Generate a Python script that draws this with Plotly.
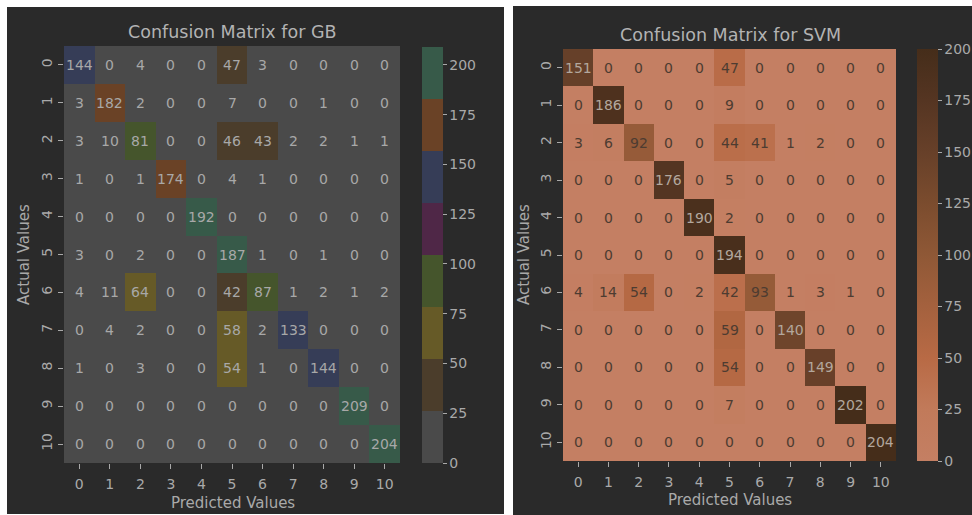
import plotly.graph_objects as go

# ---------------------------------------------------------------- data
labels = list(range(11))

gb_matrix = [
    [144, 0, 4, 0, 0, 47, 3, 0, 0, 0, 0],
    [3, 182, 2, 0, 0, 7, 0, 0, 1, 0, 0],
    [3, 10, 81, 0, 0, 46, 43, 2, 2, 1, 1],
    [1, 0, 1, 174, 0, 4, 1, 0, 0, 0, 0],
    [0, 0, 0, 0, 192, 0, 0, 0, 0, 0, 0],
    [3, 0, 2, 0, 0, 187, 1, 0, 1, 0, 0],
    [4, 11, 64, 0, 0, 42, 87, 1, 2, 1, 2],
    [0, 4, 2, 0, 0, 58, 2, 133, 0, 0, 0],
    [1, 0, 3, 0, 0, 54, 1, 0, 144, 0, 0],
    [0, 0, 0, 0, 0, 0, 0, 0, 0, 209, 0],
    [0, 0, 0, 0, 0, 0, 0, 0, 0, 0, 204],
]

svm_matrix = [
    [151, 0, 0, 0, 0, 47, 0, 0, 0, 0, 0],
    [0, 186, 0, 0, 0, 9, 0, 0, 0, 0, 0],
    [3, 6, 92, 0, 0, 44, 41, 1, 2, 0, 0],
    [0, 0, 0, 176, 0, 5, 0, 0, 0, 0, 0],
    [0, 0, 0, 0, 190, 2, 0, 0, 0, 0, 0],
    [0, 0, 0, 0, 0, 194, 0, 0, 0, 0, 0],
    [4, 14, 54, 0, 2, 42, 93, 1, 3, 1, 0],
    [0, 0, 0, 0, 0, 59, 0, 140, 0, 0, 0],
    [0, 0, 0, 0, 0, 54, 0, 0, 149, 0, 0],
    [0, 0, 0, 0, 0, 7, 0, 0, 0, 202, 0],
    [0, 0, 0, 0, 0, 0, 0, 0, 0, 0, 204],
]

cbar_ticks = [0, 25, 50, 75, 100, 125, 150, 175, 200]

# ---------------------------------------------------------------- styling
W, H = 972, 515
PANEL = "#2a2a2a"
TXT = "#a9a9a9"
TITLE_TXT = "#b3b3b3"
FONT = "DejaVu Sans"

# muted qualitative bands for the GB map (8 equal bins)
gb_band_colors = ["#4a4a4a", "#4b3d2b", "#665a27", "#45552c",
                  "#4f2747", "#363d57", "#6a4226", "#375a49"]
GB_MAX = 209

# continuous salmon -> dark brown ramp for the SVM map
svm_stops = [
    (0.000, "#c47f63"),
    (0.125, "#c17a5a"),
    (0.250, "#b86a45"),
    (0.375, "#a4613e"),
    (0.500, "#8f5836"),
    (0.625, "#7b4c2e"),
    (0.750, "#674029"),
    (0.875, "#553522"),
    (1.000, "#452d1a"),
]
SVM_MAX = 200


def px_x(x):
    return x / W


def px_y(y):
    return (H - y) / H


def step_scale(colors):
    n = len(colors)
    scale = []
    for i, c in enumerate(colors):
        scale.append([i / n, c])
        scale.append([(i + 1) / n, c])
    return scale


def hex_rgb(h):
    h = h.lstrip("#")
    return [int(h[i:i + 2], 16) / 255 for i in (0, 2, 4)]


def color_at(scale, t):
    t = min(max(t, 0.0), 1.0)
    for (t0, c0), (t1, c1) in zip(scale[:-1], scale[1:]):
        if t0 <= t <= t1:
            a, b = hex_rgb(c0), hex_rgb(c1)
            f = 0 if t1 == t0 else (t - t0) / (t1 - t0)
            return [a[k] + (b[k] - a[k]) * f for k in range(3)]
    return hex_rgb(scale[-1][1])


def luminance(rgb):
    lin = [c / 12.92 if c <= 0.04045 else ((c + 0.055) / 1.055) ** 2.4 for c in rgb]
    return 0.2126 * lin[0] + 0.7152 * lin[1] + 0.0722 * lin[2]


gb_scale = step_scale(gb_band_colors)
svm_scale = [[t, c] for t, c in svm_stops]


def colorbar(x_px, bottom_px, length_px):
    return dict(
        x=px_x(x_px), xanchor="left", y=px_y(bottom_px), yanchor="bottom",
        lenmode="pixels", len=length_px, thickness=21, thicknessmode="pixels",
        xpad=0, ypad=0, outlinewidth=0,
        tickvals=cbar_ticks, ticks="outside", ticklen=4, tickcolor=TXT,
        tickprefix="\u00a0",
        tickfont=dict(family=FONT, size=14, color=TXT),
    )


fig = go.Figure()

# ---------------------------------------------------------------- heatmaps
fig.add_trace(go.Heatmap(
    z=gb_matrix, x=labels, y=labels, zmin=0, zmax=GB_MAX,
    colorscale=gb_scale, xaxis="x", yaxis="y", hoverinfo="skip",
    colorbar=colorbar(422, 463, 416),
))

fig.add_trace(go.Heatmap(
    z=svm_matrix, x=labels, y=labels, zmin=0, zmax=SVM_MAX,
    colorscale=svm_scale, xaxis="x2", yaxis="y2", hoverinfo="skip",
    colorbar=colorbar(917, 461, 412),
))

# ---------------------------------------------------------------- cell labels
annotations = []


def cell_labels(matrix, scale, zmax, xref, yref, light, dark):
    for i, row in enumerate(matrix):
        for j, v in enumerate(row):
            lum = luminance(color_at(scale, v / zmax))
            annotations.append(dict(
                x=labels[j], y=labels[i], xref=xref, yref=yref,
                text=str(v), showarrow=False,
                font=dict(family=FONT, size=14, color=light if lum < 0.11 else dark),
            ))


cell_labels(gb_matrix, gb_scale, GB_MAX, "x", "y", "#a8a8a8", "#3e3e3e")
cell_labels(svm_matrix, svm_scale, SVM_MAX, "x2", "y2", "#b3a79d", "#4d3c31")

# ---------------------------------------------------------------- titles
def text(x, y, s, size, color=TXT, angle=0):
    annotations.append(dict(
        x=px_x(x), y=px_y(y), xref="paper", yref="paper", text=s,
        showarrow=False, xanchor="center", yanchor="middle", textangle=angle,
        font=dict(family=FONT, size=size, color=color),
    ))


text(232, 32, "Confusion Matrix for GB", 17.5, TITLE_TXT)
text(730, 35, "Confusion Matrix for SVM", 17.5, TITLE_TXT)
text(233, 503, "Predicted Values", 15)
text(730, 500, "Predicted Values", 15)
text(24, 255, "Actual Values", 15, angle=-90)
text(524, 255, "Actual Values", 15, angle=-90)

# ---------------------------------------------------------------- axes
def xaxis(domain, anchor):
    return dict(
        domain=domain, anchor=anchor, tickmode="array", tickvals=labels,
        ticktext=[str(v) for v in labels], ticks="outside", ticklen=5,
        tickcolor=TXT, tickwidth=1, showgrid=False, zeroline=False,
        showline=False, tickfont=dict(family=FONT, size=14, color=TXT),
        ticklabelstandoff=3, range=[-0.5, 10.5],
    )


def yaxis(domain, anchor):
    return dict(
        domain=domain, anchor=anchor, tickmode="array", tickvals=labels,
        ticktext=[str(v) for v in labels], ticks="outside", ticklen=5,
        tickcolor=TXT, tickwidth=1, showgrid=False, zeroline=False,
        showline=False, tickfont=dict(family=FONT, size=14, color=TXT),
        tickangle=-90, range=[10.5, -0.5],
    )


fig.update_layout(
    width=W, height=H, margin=dict(l=0, r=0, t=0, b=0),
    paper_bgcolor="white", plot_bgcolor="rgba(0,0,0,0)",
    showlegend=False,
    xaxis=xaxis([px_x(64), px_x(400)], "y"),
    yaxis=yaxis([px_y(463), px_y(46)], "x"),
    xaxis2=xaxis([px_x(563), px_x(896)], "y2"),
    yaxis2=yaxis([px_y(461), px_y(49)], "x2"),
    annotations=annotations,
    shapes=[
        dict(type="rect", xref="paper", yref="paper", layer="below",
             x0=px_x(7), x1=px_x(504), y0=px_y(514), y1=px_y(7),
             fillcolor=PANEL, line=dict(width=0)),
        dict(type="rect", xref="paper", yref="paper", layer="below",
             x0=px_x(513), x1=1, y0=0, y1=px_y(6),
             fillcolor=PANEL, line=dict(width=0)),
    ],
)

fig.write_html("out.html")
